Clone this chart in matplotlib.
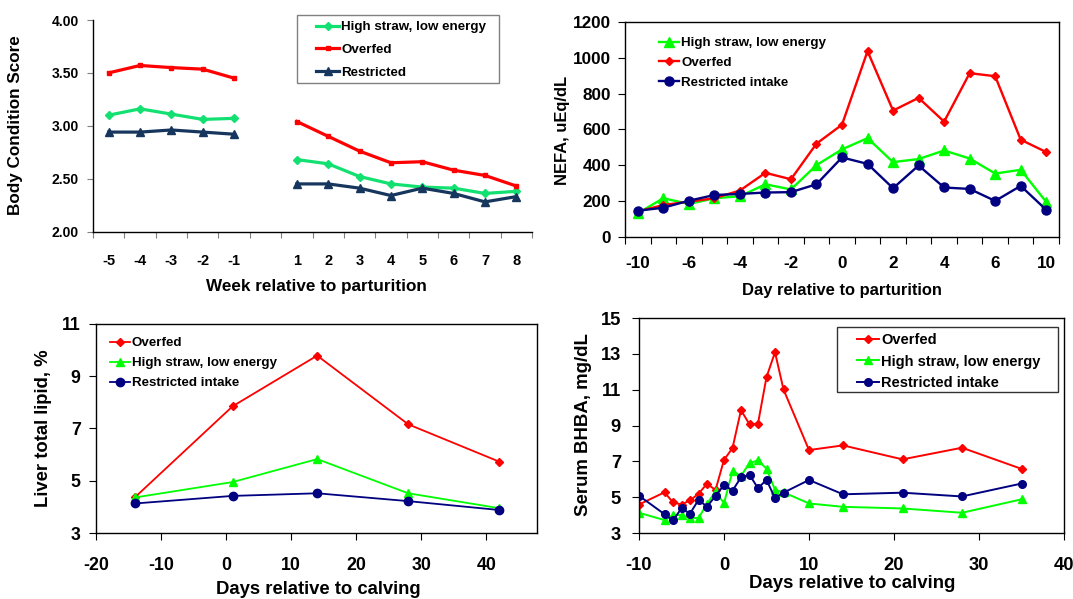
import numpy as np
import matplotlib
matplotlib.use('Agg')
import matplotlib.pyplot as plt
from matplotlib import font_manager as fm
from matplotlib.ticker import FixedLocator, NullFormatter, FixedFormatter, FormatStrFormatter
from matplotlib.patches import Rectangle

nan = np.nan

# ---------------- data ----------------
# Panel 1: body condition score by week
bcs_weeks = ['-5', '-4', '-3', '-2', '-1', '', '1', '2', '3', '4', '5', '6', '7', '8']
bcs_high = [3.10, 3.16, 3.11, 3.06, 3.07, nan, 2.68, 2.64, 2.52, 2.45, 2.42, 2.41, 2.36, 2.38]
bcs_over = [3.50, 3.57, 3.55, 3.535, 3.45, nan, 3.04, 2.90, 2.76, 2.65, 2.66, 2.58, 2.53, 2.43]
bcs_restr = [2.94, 2.94, 2.96, 2.94, 2.92, nan, 2.45, 2.45, 2.41, 2.34, 2.41, 2.36, 2.28, 2.33]

# Panel 2: NEFA by day (category axis)
nefa_days = ['-10', '-8', '-6', '-5', '-4', '-3', '-2', '-1', '0', '1', '2', '3', '4', '5', '6', '8', '10']
nefa_high = [131, 215, 183, 215, 226, 293, 264, 400, 488, 551, 417, 434, 482, 437, 353, 374, 194]
nefa_over = [141, 177, 196, 215, 258, 357, 321, 520, 626, 1037, 705, 776, 643, 914, 897, 542, 473]
nefa_restr = [145, 162, 201, 233, 239, 247, 249, 293, 443, 407, 271, 398, 275, 267, 200, 284, 150]

# Panel 3: liver total lipid
lipid_days = [-14, 1, 14, 28, 42]
lipid_over = [4.37, 7.85, 9.79, 7.16, 5.73]
lipid_high = [4.36, 4.95, 5.83, 4.52, 3.95]
lipid_restr = [4.13, 4.42, 4.52, 4.22, 3.88]

# Panel 4: serum BHBA
bhba_days = [-10, -7, -6, -5, -4, -3, -2, -1, 0, 1, 2, 3, 4, 5, 6, 7, 10, 14, 21, 28, 35]
bhba_over = [4.59, 5.27, 4.71, 4.59, 4.82, 5.19, 5.75, 5.40, 7.08, 7.74, 9.86, 9.06, 9.11, 11.70, 13.09, 11.01, 7.63, 7.89, 7.11, 7.76, 6.58]
bhba_high = [4.13, 3.72, 4.00, 4.00, 3.84, 3.84, 4.62, 5.32, 4.66, 6.45, 6.19, 6.91, 7.05, 6.59, 5.41, 5.27, 4.65, 4.46, 4.37, 4.13, 4.88]
bhba_restr = [5.08, 4.05, 3.70, 4.38, 4.08, 4.85, 4.47, 5.07, 5.68, 5.37, 6.10, 6.25, 5.50, 5.97, 4.94, 5.25, 5.96, 5.16, 5.25, 5.04, 5.76]

# ---------------- style ----------------
def has_font(name):
    try:
        fm.findfont(fm.FontProperties(family=name, weight='bold'), fallback_to_default=False)
        return True
    except Exception:
        return False

NARROW_OK = has_font('Liberation Sans Narrow')
NARROW = 'Liberation Sans Narrow' if NARROW_OK else 'Liberation Sans'
NSCALE = 1.0 if NARROW_OK else 0.85

plt.rcParams['font.family'] = ['Liberation Sans', 'DejaVu Sans']
plt.rcParams['font.weight'] = 'bold'
plt.rcParams['axes.linewidth'] = 1.0
plt.rcParams['axes.unicode_minus'] = False

RED = '#FF0000'
GREEN = '#00FF00'
NAVY = '#000080'
GREEN1 = '#12E070'
NAVY1 = '#17365D'

W, H = 1073, 599
fig = plt.figure(figsize=(W / 100, H / 100), dpi=100)


def fx(px):
    return px / W


def fy(py):
    return 1 - py / H


def axes_px(x0, y0, x1, y1):
    return fig.add_axes([fx(x0), fy(y1), fx(x1) - fx(x0), fy(y0) - fy(y1)])


def place_labels(ax, xl, yl, xc, yc, size, family=None):
    kw = {}
    if family:
        kw['family'] = [family, 'DejaVu Sans']
    ax.set_xlabel(xl, fontsize=size, fontweight='bold', va='center', ha='center', **kw)
    ax.set_ylabel(yl, fontsize=size, fontweight='bold', va='center', ha='center', **kw)
    ax.xaxis.set_label_coords(fx(xc[0]), fy(xc[1]), transform=fig.transFigure)
    ax.yaxis.set_label_coords(fx(yc[0]), fy(yc[1]), transform=fig.transFigure)


def px_legend(ax, x0, ytop, size, spacing, hlen, family=None):
    prop = {'size': size, 'weight': 'bold'}
    if family:
        prop['family'] = [family, 'DejaVu Sans']
    leg = ax.legend(loc='upper left', bbox_to_anchor=(fx(x0), fy(ytop)),
                    bbox_transform=fig.transFigure, frameon=False, borderaxespad=0,
                    borderpad=0, handlelength=hlen, handletextpad=0.15,
                    labelspacing=spacing, prop=prop, numpoints=1)
    return leg


# ---------------- panel 1 ----------------
ax1 = axes_px(93, 20, 532, 231.5)
x1 = np.arange(len(bcs_weeks)) + 0.5
ax1.plot(x1, bcs_high, color=GREEN1, lw=2.3, marker='D', ms=4.5, label='High straw, low energy')
ax1.plot(x1, bcs_over, color=RED, lw=2.3, marker='s', ms=3.2, label='Overfed')
ax1.plot(x1, bcs_restr, color=NAVY1, lw=2.3, marker='^', ms=5.5, label='Restricted')
ax1.set_xlim(0, len(bcs_weeks))
ax1.set_ylim(2, 4)
ax1.spines['top'].set_visible(False)
ax1.spines['right'].set_visible(False)
ax1.set_yticks(np.arange(2, 4.01, 0.5))
ax1.yaxis.set_major_formatter(FormatStrFormatter('%.2f'))
ax1.xaxis.set_major_locator(FixedLocator(np.arange(len(bcs_weeks) + 1)))
ax1.xaxis.set_major_formatter(NullFormatter())
ax1.xaxis.set_minor_locator(FixedLocator(x1))
ax1.xaxis.set_minor_formatter(FixedFormatter(bcs_weeks))
ax1.tick_params(axis='x', which='minor', length=0, pad=16, labelsize=10.5)
ax1.tick_params(axis='x', which='major', length=4, color='#808080', direction='out')
ax1.tick_params(axis='y', length=4, color='#808080', pad=6, labelsize=10)
place_labels(ax1, 'Week relative to parturition', 'Body Condition Score', (316, 287), (16, 125.5), 12.3)
px_legend(ax1, 316, 21, 9.6, 0.78, 1.75)
fig.patches.append(Rectangle((fx(297), fy(83)), fx(499) - fx(297), fy(15) - fy(83),
                             transform=fig.transFigure, fill=False, edgecolor='#808080', lw=1.0))

# ---------------- panel 2 ----------------
ax2 = axes_px(625, 22, 1059, 236.7)
x2 = np.arange(len(nefa_days)) + 0.5
ax2.plot(x2, nefa_high, color=GREEN, lw=1.7, marker='^', ms=6.5, label='High straw, low energy')
ax2.plot(x2, nefa_over, color=RED, lw=1.7, marker='D', ms=4.5, label='Overfed')
ax2.plot(x2, nefa_restr, color=NAVY, lw=1.7, marker='o', ms=6.5, label='Restricted intake')
ax2.set_xlim(0, len(nefa_days))
ax2.set_ylim(0, 1200)
ax2.set_yticks(np.arange(0, 1201, 200))
ax2.xaxis.set_major_locator(FixedLocator(np.arange(len(nefa_days) + 1)))
ax2.xaxis.set_major_formatter(NullFormatter())
ax2.xaxis.set_minor_locator(FixedLocator(x2))
ax2.xaxis.set_minor_formatter(FixedFormatter([d if i % 2 == 0 else '' for i, d in enumerate(nefa_days)]))
for lab in ax2.get_xticklabels(minor=True) + ax2.get_yticklabels():
    lab.set_fontfamily([NARROW, 'DejaVu Sans'])
ax2.tick_params(axis='x', which='minor', length=0, pad=14, labelsize=14.5 * NSCALE)
ax2.tick_params(axis='x', which='major', length=5, direction='out')
ax2.tick_params(axis='y', length=5, pad=5, labelsize=14.5 * NSCALE)
place_labels(ax2, 'Day relative to parturition', 'NEFA, uEq/dL', (842, 290), (562, 130), 14 * NSCALE, NARROW)
px_legend(ax2, 659, 37, 9.6, 0.56, 1.5)

# ---------------- panel 3 ----------------
ax3 = axes_px(96, 324, 537, 533)
ax3.plot(lipid_days, lipid_over, color=RED, lw=1.3, marker='D', ms=4.5, label='Overfed')
ax3.plot(lipid_days, lipid_high, color=GREEN, lw=1.3, marker='^', ms=6, label='High straw, low energy')
ax3.plot(lipid_days, lipid_restr, color=NAVY, lw=1.3, marker='o', ms=6, label='Restricted intake')
ax3.set_xlim(-20, 47.8)
ax3.set_ylim(3, 11)
ax3.set_yticks(np.arange(3, 11.1, 2))
ax3.set_xticks(np.arange(-20, 41, 10))
ax3.tick_params(axis='both', length=5, direction='out', labelsize=12.8)
ax3.tick_params(axis='x', pad=12)
ax3.tick_params(axis='y', pad=6)
place_labels(ax3, 'Days relative to calving', 'Liver total lipid, %', (318, 590), (44, 428), 13.3)
px_legend(ax3, 110, 337, 9.6, 0.58, 1.5)

# ---------------- panel 4 ----------------
ax4 = axes_px(639, 318, 1064, 533)
ax4.plot(bhba_days, bhba_over, color=RED, lw=1.4, marker='D', ms=4.5, label='Overfed')
ax4.plot(bhba_days, bhba_high, color=GREEN, lw=1.4, marker='^', ms=6, label='High straw, low energy')
ax4.plot(bhba_days, bhba_restr, color=NAVY, lw=1.4, marker='o', ms=5.5, label='Restricted intake')
ax4.set_xlim(-10, 40)
ax4.set_ylim(3, 15)
ax4.set_yticks(np.arange(3, 15.1, 2))
ax4.set_xticks(np.arange(-10, 41, 10))
ax4.tick_params(axis='both', length=5, direction='out', labelsize=13.2)
ax4.tick_params(axis='x', pad=12)
ax4.tick_params(axis='y', pad=8)
place_labels(ax4, 'Days relative to calving', 'Serum BHBA, mg/dL', (852, 584), (583.5, 425), 13.4)
px_legend(ax4, 857, 333, 10.5, 0.52, 1.5)
fig.patches.append(Rectangle((fx(837), fy(392)), fx(1058) - fx(837), fy(327) - fy(392),
                             transform=fig.transFigure, fill=False, edgecolor='#333333', lw=1.0))

fig.savefig('out.png', dpi=100)
